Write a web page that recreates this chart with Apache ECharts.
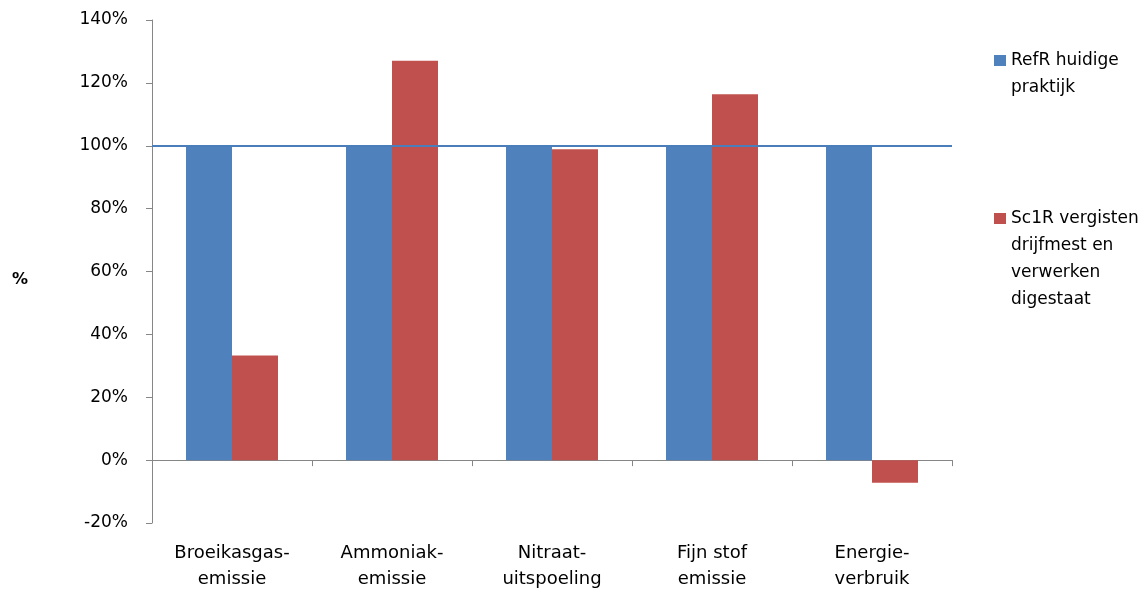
<!DOCTYPE html>
<html>
<head>
<meta charset="utf-8">
<script src="https://cdn.jsdelivr.net/npm/echarts@6/dist/echarts.min.js"></script>
<style>
  html, body { margin: 0; padding: 0; background: #fff; }
  #chart { width: 1148px; height: 593px; }
</style>
</head>
<body>
<div id="chart"></div>
<script>
// Categories (two-line labels) and values per scenario, in percent
var categories = ['Broeikasgas-\nemissie', 'Ammoniak-\nemissie', 'Nitraat-\nuitspoeling', 'Fijn stof\nemissie', 'Energie-\nverbruik'];
var refNames = 'RefR huidige praktijk';
var scNames = 'Sc1R vergisten drijfmest en verwerken digestaat';
var refLegendLines = ['RefR huidige', 'praktijk'];
var scLegendLines = ['Sc1R vergisten', 'drijfmest en', 'verwerken', 'digestaat'];
var refValues = [100, 100, 100, 100, 100];
var scValues = [33.3, 127, 98.9, 116.4, -7.2];
var referenceLevel = 100;

var FONT = 'DejaVu Sans';
var chart = echarts.init(document.getElementById('chart'));

// Legend text is centred on its swatch; blank lines above the text keep the
// swatch level with the first line.
function legendBlock(name, lines, top) {
  var text = new Array(lines.length).join('\n') + lines.join('\n');
  return {
    data: [name],
    left: 994, top: top, padding: 0,
    orient: 'vertical', icon: 'rect', itemWidth: 12, itemHeight: 11,
    itemGap: 0,
    selectedMode: false,
    formatter: function () { return text; },
    textStyle: { fontFamily: FONT, fontSize: 17, color: '#000', lineHeight: 27 }
  };
}

chart.setOption({
  animation: false,
  textStyle: { fontFamily: FONT },
  grid: { left: 152, right: 196, top: 20, bottom: 70 },
  legend: [
    legendBlock(refNames, refLegendLines, 20),
    legendBlock(scNames, scLegendLines, 124)
  ],
  xAxis: [
    {
      // category labels sit below the plot area
      type: 'category',
      data: categories,
      position: 'bottom',
      axisLine: { show: false, onZero: false },
      axisTick: { show: false },
      axisLabel: {
        interval: 0, margin: 17, color: '#000',
        fontFamily: FONT, fontSize: 18, lineHeight: 26
      }
    },
    {
      // baseline at 0% with tick marks between categories
      type: 'category',
      data: categories,
      position: 'bottom',
      axisLine: { show: true, onZero: true, lineStyle: { color: '#868686', width: 1 } },
      axisTick: { show: true, length: 6, lineStyle: { color: '#868686' } },
      axisLabel: { show: false }
    }
  ],
  yAxis: {
    type: 'value',
    min: -20, max: 140, interval: 20,
    name: '%',
    nameLocation: 'middle',
    nameRotate: 0,
    nameGap: 124,
    nameTextStyle: { fontFamily: FONT, fontSize: 16, fontWeight: 'bold', color: '#000', verticalAlign: 'top' },
    axisLine: { show: true, lineStyle: { color: '#868686', width: 1 } },
    axisTick: { show: true, length: 6, lineStyle: { color: '#868686' } },
    splitLine: { show: false },
    axisLabel: {
      formatter: '{value}%', margin: 24, color: '#000',
      fontFamily: FONT, fontSize: 17
    }
  },
  series: [
    {
      name: refNames,
      type: 'bar',
      data: refValues,
      barWidth: 46,
      barGap: '0%',
      itemStyle: { color: '#4f81bd' }
    },
    {
      name: scNames,
      type: 'bar',
      data: scValues,
      barWidth: 46,
      barGap: '0%',
      itemStyle: { color: '#c0504d' },
      markLine: {
        silent: true,
        symbol: ['none', 'none'],
        label: { show: false },
        lineStyle: { color: '#4a7ebb', width: 2, type: 'solid' },
        data: [{ yAxis: referenceLevel }],
        z: 10
      }
    }
  ]
});
</script>
</body>
</html>
